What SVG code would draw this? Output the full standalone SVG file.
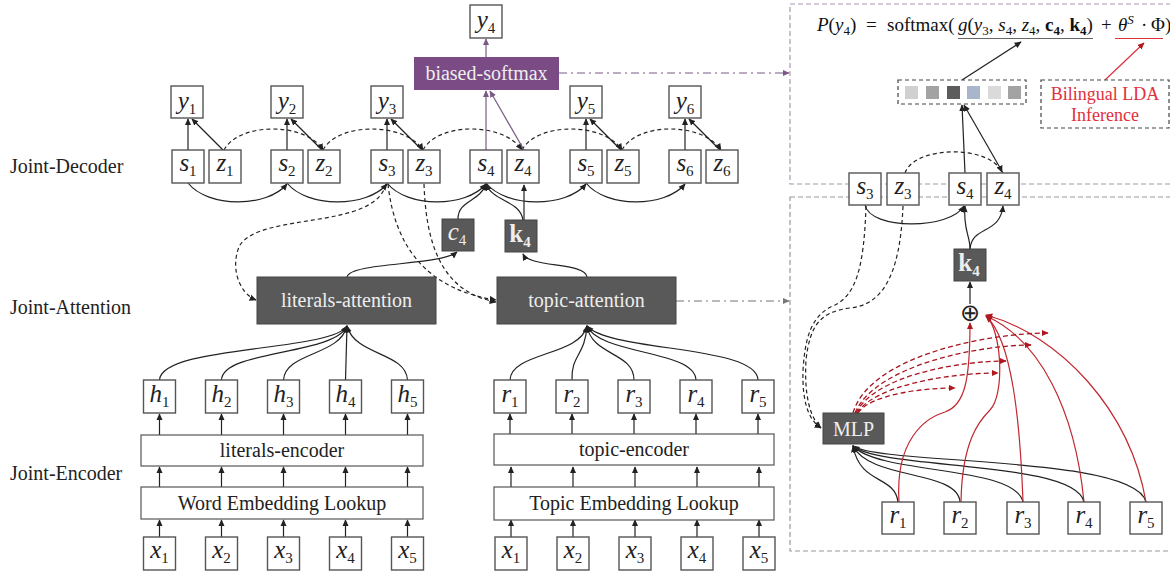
<svg xmlns="http://www.w3.org/2000/svg" width="1170" height="574" viewBox="0 0 1170 574">
<style>
.bx{fill:#fff;stroke:#555;stroke-width:1.4}
.dk{fill:#595959;stroke:#444;stroke-width:1}
.wb{fill:#fff;stroke:#555;stroke-width:1.2}
.v{font-family:"Liberation Serif",serif;font-style:italic;font-size:25px;fill:#222;text-anchor:middle}
.sb{font-style:normal;font-size:15px}
.vw{fill:#eee}
.bk{font-style:normal;font-weight:bold}
.lb{font-family:"Liberation Serif",serif;font-size:20px;fill:#222}
.lc{font-family:"Liberation Serif",serif;font-size:20px;fill:#222;text-anchor:middle}
.lw{font-family:"Liberation Serif",serif;font-size:20px;fill:#eee;text-anchor:middle}
.ln{fill:none;stroke:#222;stroke-width:1.2}
.dsh{fill:none;stroke:#222;stroke-width:1.2;stroke-dasharray:4,3}
.pl{fill:none;stroke:#7A5A84;stroke-width:1.2}
.rd{fill:none;stroke:#C0282F;stroke-width:1.2}
.rdd{fill:none;stroke:#A8141E;stroke-width:1.3;stroke-dasharray:5,3}
.fm{font-family:"Liberation Serif",serif;font-size:19px;fill:#111}
</style>
<defs>
<marker id="ab" viewBox="0 0 10 10" refX="9" refY="5" markerWidth="7" markerHeight="7" markerUnits="userSpaceOnUse" orient="auto"><path d="M0,0.5 L10,5 L0,9.5 z" fill="#222"/></marker>
<marker id="ap" viewBox="0 0 10 10" refX="9" refY="5" markerWidth="7" markerHeight="7" markerUnits="userSpaceOnUse" orient="auto"><path d="M0,0.5 L10,5 L0,9.5 z" fill="#7A5A84"/></marker>
<marker id="ar" viewBox="0 0 10 10" refX="9" refY="5" markerWidth="7" markerHeight="7" markerUnits="userSpaceOnUse" orient="auto"><path d="M0,0.5 L10,5 L0,9.5 z" fill="#B01820"/></marker>
<marker id="ag" viewBox="0 0 10 10" refX="9" refY="5" markerWidth="7" markerHeight="7" markerUnits="userSpaceOnUse" orient="auto"><path d="M0,0.5 L10,5 L0,9.5 z" fill="#777"/></marker>
</defs>
<rect width="1170" height="574" fill="#fff"/>

<g id="panels">
<rect x="790" y="4" width="400" height="180" fill="none" stroke="#A898B0" stroke-width="1.2" stroke-dasharray="5,3"/>
<rect x="790" y="197" width="400" height="354" fill="none" stroke="#999" stroke-width="1.2" stroke-dasharray="5,3"/>
</g>

<text class="lb" x="10" y="173">Joint-Decoder</text>
<text class="lb" x="10" y="314">Joint-Attention</text>
<text class="lb" x="10" y="480">Joint-Encoder</text>

<g id="connectors">
<path class="ln" d="M188,150 L188,119" marker-end="url(#ab)"/>
<path class="ln" d="M287,150 L287,119" marker-end="url(#ab)"/>
<path class="ln" d="M387,150 L387,119" marker-end="url(#ab)"/>
<path class="ln" d="M586,150 L586,119" marker-end="url(#ab)"/>
<path class="ln" d="M685,150 L685,119" marker-end="url(#ab)"/>
<path class="ln" d="M223,150 L192,119" marker-end="url(#ab)"/>
<path class="ln" d="M322,150 L291,119" marker-end="url(#ab)"/>
<path class="ln" d="M422,150 L391,119" marker-end="url(#ab)"/>
<path class="ln" d="M621,150 L590,119" marker-end="url(#ab)"/>
<path class="ln" d="M720,150 L689,119" marker-end="url(#ab)"/>
<path class="dsh" d="M224,150 C239,122 306,122 323,150" marker-end="url(#ab)"/>
<path class="dsh" d="M323,150 C338,122 405,122 423,150" marker-end="url(#ab)"/>
<path class="dsh" d="M423,150 C438,122 504,122 522,150" marker-end="url(#ab)"/>
<path class="dsh" d="M522,150 C537,122 604,122 622,150" marker-end="url(#ab)"/>
<path class="dsh" d="M622,150 C637,122 703,122 721,150" marker-end="url(#ab)"/>
<path class="ln" d="M188,183 C208,208 267,208 287,184" marker-end="url(#ab)"/>
<path class="ln" d="M287,183 C307,208 367,208 387,184" marker-end="url(#ab)"/>
<path class="ln" d="M387,183 C407,208 466,208 486,184" marker-end="url(#ab)"/>
<path class="ln" d="M486,183 C506,208 566,208 586,184" marker-end="url(#ab)"/>
<path class="ln" d="M586,183 C606,208 665,208 685,184" marker-end="url(#ab)"/>
<path class="pl" d="M486,150 L486,91" marker-end="url(#ap)"/>
<path class="pl" d="M524,150 L490,91" marker-end="url(#ap)"/>
<path class="pl" d="M486,57 L486,39" marker-end="url(#ap)"/>
<path fill="none" stroke="#7A5A84" stroke-width="1.2" stroke-dasharray="8,4,2,4" d="M559,73 L789,73" marker-end="url(#ap)"/>
<path class="ln" d="M458,219 C458,200 480,202 486,184" marker-end="url(#ab)"/>
<path class="ln" d="M523,220 C520,200 493,202 486,184" marker-end="url(#ab)"/>
<path class="ln" d="M524,220 L524,185" marker-end="url(#ab)"/>
<path class="ln" d="M347,277 C350,262 440,266 457,252" marker-end="url(#ab)"/>
<path class="ln" d="M587,277 C585,262 530,268 523,254" marker-end="url(#ab)"/>
<path class="dsh" d="M386,184 C375,230 262,212 240,245 C230,265 238,293 256,300" marker-end="url(#ab)"/>
<path class="dsh" d="M388,184 C395,250 430,290 496,300" marker-end="url(#ab)"/>
<path class="dsh" d="M424,184 C426,245 442,292 496,302" marker-end="url(#ab)"/>
<path fill="none" stroke="#777" stroke-width="1.2" stroke-dasharray="8,4,2,4" d="M676,301 L789,301" marker-end="url(#ag)"/>
<path class="ln" d="M159.5,380 C162,345 330,352 347,326" marker-end="url(#ab)"/>
<path class="ln" d="M221.5,380 C222,350 335,355 347,326" marker-end="url(#ab)"/>
<path class="ln" d="M283.5,380 C285,352 340,356 347,326" marker-end="url(#ab)"/>
<path class="ln" d="M345.5,380 L347,326" marker-end="url(#ab)"/>
<path class="ln" d="M407.5,380 C406,352 355,356 347,326" marker-end="url(#ab)"/>
<path class="ln" d="M510,380 C511,352 580,356 587,326" marker-end="url(#ab)"/>
<path class="ln" d="M572,380 C571,355 585,356 587,326" marker-end="url(#ab)"/>
<path class="ln" d="M634,380 C634,352 592,356 587,326" marker-end="url(#ab)"/>
<path class="ln" d="M696,380 C695,350 600,355 587,326" marker-end="url(#ab)"/>
<path class="ln" d="M758,380 C757,345 610,352 587,326" marker-end="url(#ab)"/>
<path class="ln" d="M159.5,537 L159.5,520" marker-end="url(#ab)"/><path class="ln" d="M221.5,537 L221.5,520" marker-end="url(#ab)"/><path class="ln" d="M283.5,537 L283.5,520" marker-end="url(#ab)"/><path class="ln" d="M345.5,537 L345.5,520" marker-end="url(#ab)"/><path class="ln" d="M407.5,537 L407.5,520" marker-end="url(#ab)"/>
<path class="ln" d="M159.5,487 L159.5,467" marker-end="url(#ab)"/><path class="ln" d="M221.5,487 L221.5,467" marker-end="url(#ab)"/><path class="ln" d="M283.5,487 L283.5,467" marker-end="url(#ab)"/><path class="ln" d="M345.5,487 L345.5,467" marker-end="url(#ab)"/><path class="ln" d="M407.5,487 L407.5,467" marker-end="url(#ab)"/>
<path class="ln" d="M159.5,435 L159.5,414" marker-end="url(#ab)"/><path class="ln" d="M221.5,435 L221.5,414" marker-end="url(#ab)"/><path class="ln" d="M283.5,435 L283.5,414" marker-end="url(#ab)"/><path class="ln" d="M345.5,435 L345.5,414" marker-end="url(#ab)"/><path class="ln" d="M407.5,435 L407.5,414" marker-end="url(#ab)"/>
<path class="ln" d="M511,537 L511,520" marker-end="url(#ab)"/><path class="ln" d="M573,537 L573,520" marker-end="url(#ab)"/><path class="ln" d="M635,537 L635,520" marker-end="url(#ab)"/><path class="ln" d="M697,537 L697,520" marker-end="url(#ab)"/><path class="ln" d="M759,537 L759,520" marker-end="url(#ab)"/>
<path class="ln" d="M511,487 L511,467" marker-end="url(#ab)"/><path class="ln" d="M573,487 L573,467" marker-end="url(#ab)"/><path class="ln" d="M635,487 L635,467" marker-end="url(#ab)"/><path class="ln" d="M697,487 L697,467" marker-end="url(#ab)"/><path class="ln" d="M759,487 L759,467" marker-end="url(#ab)"/>
<path class="ln" d="M510,435 L510,414" marker-end="url(#ab)"/><path class="ln" d="M572,435 L572,414" marker-end="url(#ab)"/><path class="ln" d="M634,435 L634,414" marker-end="url(#ab)"/><path class="ln" d="M696,435 L696,414" marker-end="url(#ab)"/><path class="ln" d="M758,435 L758,414" marker-end="url(#ab)"/>

<path class="ln" d="M962,80 L1021,42" marker-end="url(#ab)"/>
<path fill="none" stroke="#E0303C" stroke-width="1.2" d="M1105,80 L1144,43" marker-end="url(#ar)"/>
<path fill="none" stroke="#666" stroke-width="1" d="M958,38.5 L1093,38.5"/>
<path fill="none" stroke="#E0303C" stroke-width="1" d="M1115,38.5 L1163,38.5"/>
<path class="ln" d="M965,173 L962,105" marker-end="url(#ab)"/>
<path class="ln" d="M1003,173 L964,105" marker-end="url(#ab)"/>
<path class="dsh" d="M905,173 C915,145 990,145 1002,172" marker-end="url(#ab)"/>
<path class="ln" d="M865,205 C870,230 950,230 964,206" marker-end="url(#ab)"/>
<path class="ln" d="M970,249 C970,235 963,230 965,206" marker-end="url(#ab)"/>
<path class="ln" d="M970,249 C972,225 1000,235 1003,206" marker-end="url(#ab)"/>
<path class="ln" d="M970,304 L970,282" marker-end="url(#ab)"/>
<path class="dsh" d="M866,206 C864,270 855,295 835,305 C810,315 805,340 803,370 C802,400 808,420 821,428" marker-end="url(#ab)"/>
<path class="dsh" d="M903,206 C900,280 880,305 850,308 C820,312 810,325 806,360 C804,395 810,418 821,428" marker-end="url(#ab)"/>
<path class="ln" d="M898,502 C895,475 860,485 853,446" marker-end="url(#ab)"/>
<path class="ln" d="M960,502 C958,470 870,480 853,446" marker-end="url(#ab)"/>
<path class="ln" d="M1023,502 C1015,465 880,475 853,446" marker-end="url(#ab)"/>
<path class="ln" d="M1084,502 C1075,460 880,470 853,446" marker-end="url(#ab)"/>
<path class="ln" d="M1146,502 C1135,455 880,465 853,446" marker-end="url(#ab)"/>
<path class="rd" d="M899,502 C895,440 925,418 945,412 C965,405 970,380 970,323" marker-end="url(#ar)"/>
<path class="rd" d="M961,502 C962,440 980,420 990,410 C1005,395 1002,330 986,316" marker-end="url(#ar)"/>
<path class="rd" d="M1023,502 C1020,420 1012,340 986,316" marker-end="url(#ar)"/>
<path class="rd" d="M1084,502 C1075,410 1040,340 986,316" marker-end="url(#ar)"/>
<path class="rd" d="M1146,502 C1130,410 1060,335 986,315" marker-end="url(#ar)"/>
<path class="rdd" d="M858,413 C870,395 920,388 955,388" marker-end="url(#ar)"/>
<path class="rdd" d="M857,413 C875,385 950,373 998,373" marker-end="url(#ar)"/>
<path class="rdd" d="M856,413 C875,375 960,361 1006,361" marker-end="url(#ar)"/>
<path class="rdd" d="M855,413 C875,365 980,345 1031,345" marker-end="url(#ar)"/>
<path class="rdd" d="M853,413 C870,355 990,333 1048,333" marker-end="url(#ar)"/>
</g>

<g id="y1"><rect class="bx" x="171" y="86" width="32" height="32"/><text class="v" x="187" y="109">y<tspan class="sb" dy="5">1</tspan></text></g>
<g id="y2"><rect class="bx" x="271" y="86" width="32" height="32"/><text class="v" x="287" y="109">y<tspan class="sb" dy="5">2</tspan></text></g>
<g id="y3"><rect class="bx" x="371" y="86" width="32" height="32"/><text class="v" x="387" y="109">y<tspan class="sb" dy="5">3</tspan></text></g>
<g id="y4"><rect class="bx" x="470" y="5" width="32" height="33"/><text class="v" x="486" y="28">y<tspan class="sb" dy="5">4</tspan></text></g>
<g id="y5"><rect class="bx" x="570" y="86" width="32" height="32"/><text class="v" x="586" y="109">y<tspan class="sb" dy="5">5</tspan></text></g>
<g id="y6"><rect class="bx" x="669" y="86" width="32" height="32"/><text class="v" x="685" y="109">y<tspan class="sb" dy="5">6</tspan></text></g>

<g id="s1"><rect class="bx" x="172" y="150" width="32" height="33"/><text class="v" x="188" y="171">s<tspan class="sb" dy="5">1</tspan></text></g>
<g id="z1"><rect class="bx" x="209" y="150" width="32" height="33"/><text class="v" x="225" y="171">z<tspan class="sb" dy="5">1</tspan></text></g>
<g id="s2"><rect class="bx" x="271" y="150" width="32" height="33"/><text class="v" x="287" y="171">s<tspan class="sb" dy="5">2</tspan></text></g>
<g id="z2"><rect class="bx" x="308" y="150" width="32" height="33"/><text class="v" x="324" y="171">z<tspan class="sb" dy="5">2</tspan></text></g>
<g id="s3"><rect class="bx" x="371" y="150" width="32" height="33"/><text class="v" x="387" y="171">s<tspan class="sb" dy="5">3</tspan></text></g>
<g id="z3"><rect class="bx" x="408" y="150" width="32" height="33"/><text class="v" x="424" y="171">z<tspan class="sb" dy="5">3</tspan></text></g>
<g id="s4"><rect class="bx" x="470" y="150" width="32" height="33"/><text class="v" x="486" y="171">s<tspan class="sb" dy="5">4</tspan></text></g>
<g id="z4"><rect class="bx" x="507" y="150" width="32" height="33"/><text class="v" x="523" y="171">z<tspan class="sb" dy="5">4</tspan></text></g>
<g id="s5"><rect class="bx" x="570" y="150" width="32" height="33"/><text class="v" x="586" y="171">s<tspan class="sb" dy="5">5</tspan></text></g>
<g id="z5"><rect class="bx" x="607" y="150" width="32" height="33"/><text class="v" x="623" y="171">z<tspan class="sb" dy="5">5</tspan></text></g>
<g id="s6"><rect class="bx" x="669" y="150" width="32" height="33"/><text class="v" x="685" y="171">s<tspan class="sb" dy="5">6</tspan></text></g>
<g id="z6"><rect class="bx" x="706" y="150" width="32" height="33"/><text class="v" x="722" y="171">z<tspan class="sb" dy="5">6</tspan></text></g>

<g id="biased-softmax"><rect x="414" y="57" width="145" height="33" fill="#7A4B84"/><text class="lw" x="486.5" y="80">biased-softmax</text></g>
<g id="c4"><rect class="dk" x="442" y="219" width="32" height="32"/><text class="v vw" x="457" y="240">c<tspan class="sb" dy="5">4</tspan></text></g>
<g id="k4"><rect class="dk" x="505" y="220" width="32" height="32"/><text class="v vw bk" x="520" y="242">k<tspan class="sb" dy="5">4</tspan></text></g>

<g id="literals-attention"><rect class="dk" x="257" y="277" width="179" height="47"/><text class="lw" x="346.5" y="307">literals-attention</text></g>
<g id="topic-attention"><rect class="dk" x="497" y="277" width="179" height="47"/><text class="lw" x="586.5" y="307">topic-attention</text></g>

<g id="h1"><rect class="bx" x="143.5" y="380" width="32" height="33"/><text class="v" x="159.5" y="402">h<tspan class="sb" dy="5">1</tspan></text></g>
<g id="h2"><rect class="bx" x="205.5" y="380" width="32" height="33"/><text class="v" x="221.5" y="402">h<tspan class="sb" dy="5">2</tspan></text></g>
<g id="h3"><rect class="bx" x="267.5" y="380" width="32" height="33"/><text class="v" x="283.5" y="402">h<tspan class="sb" dy="5">3</tspan></text></g>
<g id="h4"><rect class="bx" x="329.5" y="380" width="32" height="33"/><text class="v" x="345.5" y="402">h<tspan class="sb" dy="5">4</tspan></text></g>
<g id="h5"><rect class="bx" x="391.5" y="380" width="32" height="33"/><text class="v" x="407.5" y="402">h<tspan class="sb" dy="5">5</tspan></text></g>
<g id="literals-encoder"><rect class="wb" x="141" y="435" width="282" height="31"/><text class="lc" x="282" y="457">literals-encoder</text></g>
<g id="word-embedding"><rect class="wb" x="141" y="487" width="282" height="32"/><text class="lc" x="282" y="510">Word Embedding Lookup</text></g>
<g id="lx1"><rect class="bx" x="143.5" y="537" width="32" height="33"/><text class="v" x="159.5" y="558">x<tspan class="sb" dy="5">1</tspan></text></g>
<g id="lx2"><rect class="bx" x="205.5" y="537" width="32" height="33"/><text class="v" x="221.5" y="558">x<tspan class="sb" dy="5">2</tspan></text></g>
<g id="lx3"><rect class="bx" x="267.5" y="537" width="32" height="33"/><text class="v" x="283.5" y="558">x<tspan class="sb" dy="5">3</tspan></text></g>
<g id="lx4"><rect class="bx" x="329.5" y="537" width="32" height="33"/><text class="v" x="345.5" y="558">x<tspan class="sb" dy="5">4</tspan></text></g>
<g id="lx5"><rect class="bx" x="391.5" y="537" width="32" height="33"/><text class="v" x="407.5" y="558">x<tspan class="sb" dy="5">5</tspan></text></g>

<g id="r1"><rect class="bx" x="494" y="380" width="32" height="33"/><text class="v" x="510" y="402">r<tspan class="sb" dy="5">1</tspan></text></g>
<g id="r2"><rect class="bx" x="556" y="380" width="32" height="33"/><text class="v" x="572" y="402">r<tspan class="sb" dy="5">2</tspan></text></g>
<g id="r3"><rect class="bx" x="618" y="380" width="32" height="33"/><text class="v" x="634" y="402">r<tspan class="sb" dy="5">3</tspan></text></g>
<g id="r4"><rect class="bx" x="680" y="380" width="32" height="33"/><text class="v" x="696" y="402">r<tspan class="sb" dy="5">4</tspan></text></g>
<g id="r5"><rect class="bx" x="742" y="380" width="32" height="33"/><text class="v" x="758" y="402">r<tspan class="sb" dy="5">5</tspan></text></g>
<g id="topic-encoder"><rect class="wb" x="494" y="434" width="280" height="31"/><text class="lc" x="634" y="456">topic-encoder</text></g>
<g id="topic-embedding"><rect class="wb" x="494" y="487" width="280" height="33"/><text class="lc" x="634" y="510">Topic Embedding Lookup</text></g>
<g id="tx1"><rect class="bx" x="495" y="537" width="32" height="33"/><text class="v" x="511" y="558">x<tspan class="sb" dy="5">1</tspan></text></g>
<g id="tx2"><rect class="bx" x="557" y="537" width="32" height="33"/><text class="v" x="573" y="558">x<tspan class="sb" dy="5">2</tspan></text></g>
<g id="tx3"><rect class="bx" x="619" y="537" width="32" height="33"/><text class="v" x="635" y="558">x<tspan class="sb" dy="5">3</tspan></text></g>
<g id="tx4"><rect class="bx" x="681" y="537" width="32" height="33"/><text class="v" x="697" y="558">x<tspan class="sb" dy="5">4</tspan></text></g>
<g id="tx5"><rect class="bx" x="743" y="537" width="32" height="33"/><text class="v" x="759" y="558">x<tspan class="sb" dy="5">5</tspan></text></g>

<g id="formula"><text class="fm" y="31"><tspan x="817" font-style="italic">P</tspan>(<tspan font-style="italic">y</tspan><tspan font-size="13" dy="4">4</tspan><tspan dy="-4">)</tspan><tspan x="866">=</tspan><tspan x="887">softmax(</tspan><tspan x="958" font-style="italic">g</tspan>(<tspan font-style="italic">y</tspan><tspan font-size="13" dy="4">3</tspan><tspan dy="-4">, </tspan><tspan font-style="italic">s</tspan><tspan font-size="13" dy="4">4</tspan><tspan dy="-4">, </tspan><tspan font-style="italic">z</tspan><tspan font-size="13" dy="4">4</tspan><tspan dy="-4">, </tspan><tspan font-weight="bold">c</tspan><tspan font-size="13" font-weight="bold" dy="4">4</tspan><tspan dy="-4">, </tspan><tspan font-weight="bold">k</tspan><tspan font-size="13" font-weight="bold" dy="4">4</tspan><tspan dy="-4">)</tspan><tspan x="1101">+</tspan><tspan x="1118" font-style="italic">θ</tspan><tspan font-size="13" font-style="italic" dy="-7">S</tspan><tspan x="1141" dy="7">·</tspan><tspan x="1151">Φ)</tspan></text></g>
<g id="vector"><rect x="898" y="80" width="128" height="24" fill="#fff" stroke="#444" stroke-width="1.2" stroke-dasharray="4,3"/>
<rect x="905" y="86" width="13" height="13" fill="#D0D0D0"/><rect x="926" y="86" width="13" height="13" fill="#A3A3A3"/><rect x="947" y="86" width="13" height="13" fill="#5C5C5C"/><rect x="967" y="86" width="13" height="13" fill="#A9B5CB"/><rect x="988" y="86" width="13" height="13" fill="#DADADA"/><rect x="1008" y="86" width="13" height="13" fill="#A3A3A3"/></g>
<g id="lda"><rect x="1041" y="80" width="128" height="48" fill="#fff" stroke="#444" stroke-width="1.2" stroke-dasharray="4,3"/><text font-family="Liberation Serif, serif" font-size="18" fill="#E0303C" text-anchor="middle" x="1105" y="100">Bilingual LDA</text><text font-family="Liberation Serif, serif" font-size="18" fill="#E0303C" text-anchor="middle" x="1105" y="121">Inference</text></g>
<g id="rs3"><rect class="bx" x="849" y="173" width="32" height="32"/><text class="v" x="865" y="194">s<tspan class="sb" dy="5">3</tspan></text></g>
<g id="rz3"><rect class="bx" x="887" y="173" width="32" height="32"/><text class="v" x="903" y="194">z<tspan class="sb" dy="5">3</tspan></text></g>
<g id="rs4"><rect class="bx" x="949" y="173" width="32" height="32"/><text class="v" x="965" y="194">s<tspan class="sb" dy="5">4</tspan></text></g>
<g id="rz4"><rect class="bx" x="987" y="173" width="32" height="32"/><text class="v" x="1003" y="194">z<tspan class="sb" dy="5">4</tspan></text></g>
<g id="rk4"><rect class="dk" x="954" y="249" width="32" height="32"/><text class="v vw bk" x="969" y="271">k<tspan class="sb" dy="5">4</tspan></text></g>
<g id="oplus"><text font-family="DejaVu Sans, sans-serif" font-size="24" fill="#222" text-anchor="middle" x="970" y="321">⊕</text></g>
<g id="mlp"><rect class="dk" x="823" y="413" width="61" height="31"/><text class="lw" x="853.5" y="436">MLP</text></g>
<g id="rr1"><rect class="bx" x="882" y="502" width="32" height="32"/><text class="v" x="898" y="523">r<tspan class="sb" dy="5">1</tspan></text></g>
<g id="rr2"><rect class="bx" x="944" y="502" width="32" height="32"/><text class="v" x="960" y="523">r<tspan class="sb" dy="5">2</tspan></text></g>
<g id="rr3"><rect class="bx" x="1007" y="502" width="32" height="32"/><text class="v" x="1023" y="523">r<tspan class="sb" dy="5">3</tspan></text></g>
<g id="rr4"><rect class="bx" x="1068" y="502" width="32" height="32"/><text class="v" x="1084" y="523">r<tspan class="sb" dy="5">4</tspan></text></g>
<g id="rr5"><rect class="bx" x="1130" y="502" width="32" height="32"/><text class="v" x="1146" y="523">r<tspan class="sb" dy="5">5</tspan></text></g>
</svg>
